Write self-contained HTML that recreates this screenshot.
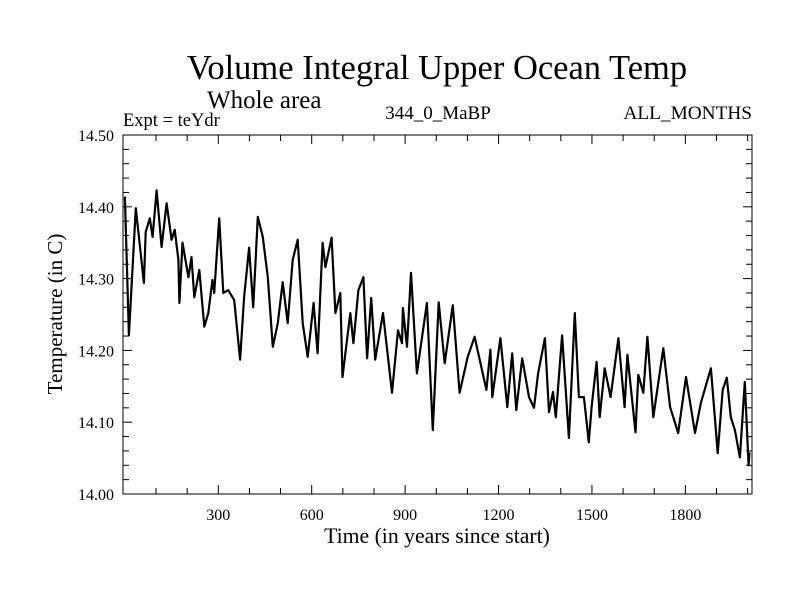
<!DOCTYPE html>
<html><head><meta charset="utf-8"><title>Volume Integral Upper Ocean Temp</title>
<style>
html,body{margin:0;padding:0;background:#fff;}
svg{display:block;font-family:"Liberation Serif",serif;}
</style></head>
<body>
<svg id="chart" width="800" height="600" viewBox="0 0 800 600" xmlns="http://www.w3.org/2000/svg">
<rect width="800" height="600" fill="#fff"/>
<text x="437" y="79" font-size="34.5" text-anchor="middle">Volume Integral Upper Ocean Temp</text>
<text x="207" y="108" font-size="25">Whole area</text>
<text x="123" y="126" font-size="18.5">Expt = teYdr</text>
<text x="438" y="119" font-size="19" text-anchor="middle">344_0_MaBP</text>
<text x="752" y="119" font-size="19.3" text-anchor="end">ALL_MONTHS</text>
<rect x="123" y="135" width="629" height="359" fill="none" stroke="#000" stroke-width="1"/>
<g id="ticks"></g>
<g id="series"></g>
<text x="437" y="543" font-size="21.7" text-anchor="middle">Time (in years since start)</text>
<text transform="translate(62,314) rotate(-90)" font-size="21" text-anchor="middle">Temperature (in C)</text>
</svg>
<script>
const years = [0,13,35,61,67,80,89,102,118,134,150,160,172,175,185,204,214,223,239,255,268,281,287,303,316,332,351,370,383,399,412,427,443,459,475,491,507,523,539,555,571,587,606,619,635,644,664,676,692,699,724,734,750,766,778,791,804,829,858,877,890,893,906,919,938,970,989,1008,1027,1053,1075,1101,1123,1161,1174,1180,1206,1228,1244,1257,1276,1298,1314,1327,1349,1362,1375,1384,1404,1426,1445,1458,1474,1490,1499,1515,1525,1541,1560,1585,1605,1614,1640,1649,1665,1678,1697,1729,1751,1777,1802,1831,1850,1882,1904,1920,1933,1946,1959,1975,1991,2003,2006];
const temps = [14.414,14.221,14.398,14.294,14.365,14.384,14.358,14.423,14.344,14.405,14.354,14.368,14.326,14.266,14.350,14.302,14.330,14.274,14.312,14.233,14.252,14.298,14.280,14.384,14.280,14.284,14.270,14.187,14.274,14.343,14.260,14.386,14.358,14.302,14.205,14.238,14.295,14.238,14.326,14.354,14.238,14.191,14.266,14.196,14.350,14.316,14.357,14.252,14.280,14.163,14.252,14.210,14.284,14.302,14.189,14.273,14.187,14.252,14.141,14.228,14.210,14.259,14.205,14.308,14.168,14.266,14.089,14.267,14.182,14.263,14.141,14.191,14.219,14.145,14.201,14.135,14.217,14.121,14.196,14.117,14.189,14.135,14.120,14.168,14.217,14.114,14.142,14.107,14.221,14.078,14.252,14.135,14.135,14.072,14.121,14.184,14.107,14.175,14.135,14.217,14.121,14.194,14.086,14.166,14.141,14.219,14.107,14.203,14.121,14.085,14.163,14.085,14.127,14.175,14.057,14.145,14.162,14.107,14.089,14.051,14.156,14.040,14.058];
const xTickLabels = [300,600,900,1200,1500,1800];
const yTickLabels = ["14.00","14.10","14.20","14.30","14.40","14.50"];

const NS = "http://www.w3.org/2000/svg";
const X0 = 123, X1 = 752, Y0 = 494, Y1 = 135;
const xMin = -6, xMax = 2014, yMin = 14.0, yMax = 14.5;
function xs(v){ return X0 + (v - xMin) / (xMax - xMin) * (X1 - X0); }
function ys(v){ return Y0 - (v - yMin) / (yMax - yMin) * (Y0 - Y1); }

const tg = document.getElementById('ticks');
function line(x1,y1,x2,y2,name){
  const l = document.createElementNS(NS,'line');
  l.setAttribute('x1',x1);l.setAttribute('y1',y1);l.setAttribute('x2',x2);l.setAttribute('y2',y2);
  l.setAttribute('stroke','#000');l.setAttribute('stroke-width','1');
  
  
  tg.appendChild(l);
}
function text(x,y,s,anchor,name){
  const t = document.createElementNS(NS,'text');
  t.setAttribute('x',x);t.setAttribute('y',y);t.setAttribute('font-size','16');
  t.setAttribute('text-anchor',anchor);t.textContent = s;
  
  
  tg.appendChild(t);
}
for(let v=100; v<=2000; v+=100){
  const x = xs(v), len = (v%300===0)?9:6;
  line(x,Y0,x,Y0-len,'x-tick');
  line(x,Y1,x,Y1+len,'x-tick-top');
}
xTickLabels.forEach(v=>text(xs(v),520,String(v),'middle','x-tick-label'));
for(let i=1;i<25;i++){
  const v = yMin + i*0.02, y = ys(v), len = (i%5===0)?9:6;
  line(X0,y,X0+len,y,'y-tick');
  line(X1,y,X1-len,y,'y-tick-right');
}
yTickLabels.forEach(s=>text(114,ys(parseFloat(s))+6,s,'end','y-tick-label'));

const sg = document.getElementById('series');
const p = document.createElementNS(NS,'path');
let d = '';
years.forEach((yr,i)=>{ d += (i?'L':'M') + xs(yr).toFixed(1) + ',' + ys(temps[i]).toFixed(1); });
p.setAttribute('d', d);
p.setAttribute('fill','none');p.setAttribute('stroke','#000');p.setAttribute('stroke-width','2.2');
p.setAttribute('stroke-linejoin','round');


sg.appendChild(p);
</script>
</body></html>
